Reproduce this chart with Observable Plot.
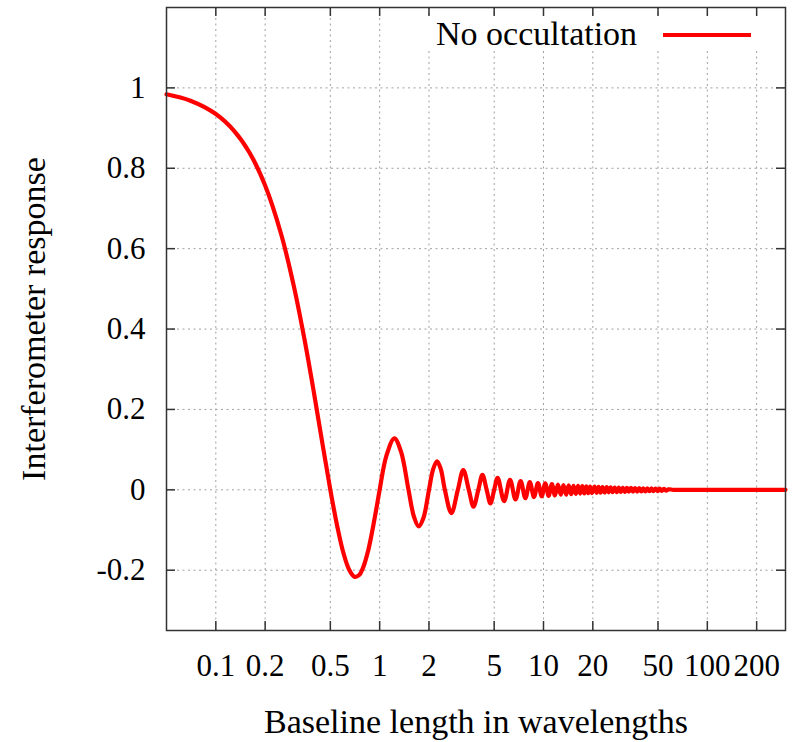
<!DOCTYPE html>
<html>
<head>
<meta charset="utf-8">
<script src="https://cdn.jsdelivr.net/npm/d3@7"></script>
<script src="https://cdn.jsdelivr.net/npm/@observablehq/plot@0.6"></script>
<style>
  html, body { margin: 0; padding: 0; background: #fff; }
  #wrap { position: relative; width: 796px; height: 742px; }
  #wrap svg text { font-family: "Liberation Serif", "Times New Roman", serif !important; font-variant: normal !important; }
  #legend { position: absolute; left: 425px; top: 18px; width: 359px; height: 33px; background: #fff;
            font-family: "Liberation Serif", "Times New Roman", serif; font-size: 34px; color: #000; }
  #legend .lab { position: absolute; left: 11px; top: -1.5px; line-height: 34px; white-space: nowrap; }
  #legend .swatch { position: absolute; left: 238px; top: 15px; width: 88px; height: 4px; background: #ff0000; }
</style>
</head>
<body>
<div id="wrap"></div>
<script>
// ---- data ----
const seriesName = "No occultation";
const xTitle = "Baseline length in wavelengths";
const yTitle = "Interferometer response";

const xTicks = [0.1, 0.2, 0.5, 1, 2, 5, 10, 20, 50, 100, 200];
const xTickLabels = ["0.1", "0.2", "0.5", "1", "2", "5", "10", "20", "50", "100", "200"];
const yTicks = [1, 0.8, 0.6, 0.4, 0.2, 0, -0.2];
const yTickLabels = ["1", "0.8", "0.6", "0.4", "0.2", "0", "-0.2"];

// main lobe
const lobeB = [0.05, 0.07, 0.1, 0.13, 0.16, 0.2, 0.25, 0.3, 0.35, 0.4, 0.45, 0.5, 0.55, 0.6, 0.65, 0.7, 0.75, 0.8, 0.85, 0.9, 0.95, 1.0];
const lobeR = [0.984, 0.968, 0.935, 0.892, 0.840, 0.757, 0.637, 0.505, 0.368, 0.234, 0.109, 0, -0.089, -0.156, -0.198, -0.216, -0.212, -0.189, -0.152, -0.104, -0.052, 0];
// ringing
const ringB = [1.1, 1.23, 1.35, 1.5, 1.62, 1.73, 1.85, 2.0, 2.12, 2.24, 2.36, 2.5, 2.74, 3.0, 3.24, 3.5, 3.74, 4.0, 4.24, 4.5, 4.74, 5.0,
               5.25, 5.75, 6.25, 6.75, 7.25, 7.75, 8.25, 8.75, 9.25, 9.75, 10.25, 10.75, 11.25, 11.75, 12.25, 12.75,
               13.25, 13.75, 14.25, 14.75, 15.25, 15.75, 16.25, 16.75, 17.25, 17.75, 18.25, 18.75, 19.25, 19.75];
const ringR = [0.085, 0.128, 0.095, 0, -0.067, -0.091, -0.070, 0, 0.051, 0.071, 0.052, 0, -0.058, 0, 0.049, 0, -0.042, 0, 0.037, 0, -0.034, 0,
               0.030, -0.028, 0.025, -0.024, 0.022, -0.021, 0.019, -0.018, 0.017, -0.016, 0.016, -0.015, 0.014, -0.014, 0.013, -0.012,
               0.012, -0.012, 0.011, -0.011, 0.010, -0.010, 0.010, -0.0095, 0.009, -0.009, 0.0087, -0.0085, 0.0083, -0.008];
// tail (thin band)
const tailB = [20.5, 21.1, 21.7, 22.3, 22.9, 23.6, 24.3, 25.0, 25.7, 26.4, 27.2, 28.0, 28.8, 29.6, 30.5, 31.4, 32.3, 33.2,
               34.2, 35.2, 36.2, 37.3, 38.4, 39.5, 40.6, 41.8, 43.0, 44.3, 45.6, 46.9, 48.3, 49.7, 51.2, 52.7, 54.3, 56, 58, 62, 70, 100, 150, 200, 300];
const tailR = [0.0078, -0.0075, 0.0073, -0.0071, 0.0069, -0.0067, 0.0065, -0.0063, 0.0062, -0.006, 0.0058, -0.0057, 0.0055, -0.0054,
               0.0052, -0.0051, 0.0049, -0.0048, 0.0047, -0.0045, 0.0044, -0.0043, 0.0041, -0.004, 0.0039, -0.0038, 0.0037, -0.0036,
               0.0035, -0.0034, 0.0033, -0.0032, 0.0028, -0.0025, 0.0022, -0.0018, 0.0012, 0, 0, 0, 0, 0, 0];

const xDomain = [0.05, 300];
const yDomain = [-0.35, 1.2];

// ---- build table ----
const baselines = [...lobeB, ...ringB, ...tailB];
const responses = [...lobeR, ...ringR, ...tailR];
const data = baselines.map((b, i) => ({b, r: responses[i]}));

// ---- layout ----
const W = 796, H = 742;
const mL = 166, mR = 11, mT = 7, mB = 112;
const plotW = W - mL - mR, plotH = H - mT - mB;
const tick = 9;
const frameColor = "#333";
const serif = "Liberation Serif";
const gridStyle = {stroke: "#a0a0a0", strokeOpacity: 1, strokeWidth: 1, strokeDasharray: "2,3.5"};

const chart = Plot.plot({
  width: W, height: H,
  marginLeft: mL, marginRight: mR, marginTop: mT, marginBottom: mB,
  style: {fontFamily: serif, fontSize: "31px", color: "#000", background: "#fff"},
  x: {type: "log", domain: xDomain},
  y: {type: "linear", domain: yDomain},
  marks: [
    Plot.gridX({ticks: xTicks, ...gridStyle}),
    Plot.gridY({ticks: yTicks, ...gridStyle}),
    // inward ticks on all four sides
    Plot.ruleX(xTicks, {insetTop: plotH - tick, stroke: frameColor, strokeWidth: 1.5}),
    Plot.ruleX(xTicks, {insetBottom: plotH - tick, stroke: frameColor, strokeWidth: 1.5}),
    Plot.ruleY(yTicks, {insetRight: plotW - tick, stroke: frameColor, strokeWidth: 1.5}),
    Plot.ruleY(yTicks, {insetLeft: plotW - tick, stroke: frameColor, strokeWidth: 1.5}),
    // tick labels
    Plot.text(xTicks, {x: d => d, text: (d, i) => xTickLabels[i], frameAnchor: "bottom", lineAnchor: "top",
      dy: 23, fontFamily: serif, fontSize: 31, fill: "#000"}),
    Plot.text(yTicks, {y: d => d, text: (d, i) => yTickLabels[i], frameAnchor: "left", textAnchor: "end",
      lineAnchor: "middle", dx: -21, fontFamily: serif, fontSize: 31, fill: "#000"}),
    // axis titles
    Plot.axisX({ticks: [], tickSize: 0, fontFamily: serif, fontSize: 34, label: xTitle, labelAnchor: "center", labelArrow: "none", labelOffset: 102}),
    Plot.axisY({ticks: [], tickSize: 0, fontFamily: serif, fontSize: 34, label: yTitle, labelAnchor: "center", labelArrow: "none", labelOffset: 146}),
    Plot.line(data, {x: "b", y: "r", stroke: "#ff0000", strokeWidth: 4.2, curve: "catmull-rom"}),
    Plot.frame({stroke: frameColor, strokeWidth: 1.5})
  ]
});

const wrap = document.getElementById("wrap");
wrap.appendChild(chart);
const leg = document.createElement("div");
leg.id = "legend";
leg.innerHTML = `<span class="lab"></span><div class="swatch"></div>`;
leg.querySelector(".lab").textContent = seriesName;
wrap.appendChild(leg);
</script>
</body>
</html>
